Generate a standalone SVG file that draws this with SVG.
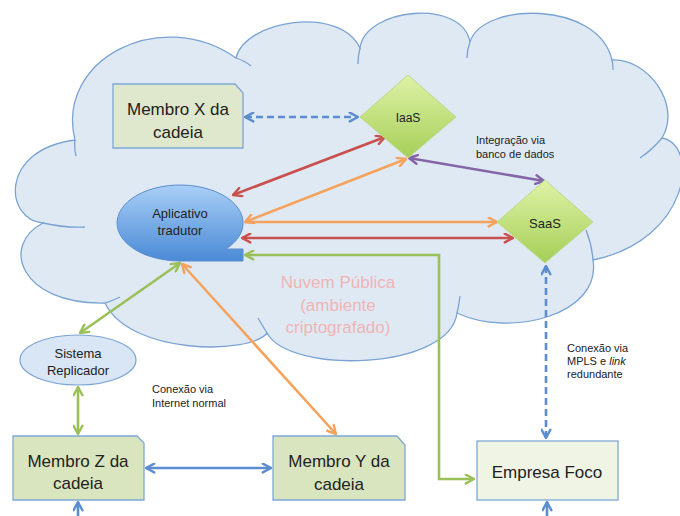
<svg xmlns="http://www.w3.org/2000/svg" width="680" height="516" viewBox="0 0 680 516">
<style>
.t{font-family:"Liberation Sans",Arial,sans-serif;fill:#222;text-anchor:middle}
.big{font-size:17px}
.med{font-size:13px}
.sm{font-size:11px;text-anchor:start}
.box{stroke:#7fa7d6;stroke-width:1.3}
.c{fill:none;stroke-width:2.6}
.blue{stroke:#5b8dd0}.red{stroke:#c9514d}.orange{stroke:#f5a35c}.green{stroke:#9bc05a}.purple{stroke:#8466a8}
.dash{stroke-dasharray:7,4}
</style>
<defs>
<linearGradient id="dg" x1="0" y1="0" x2="0" y2="1"><stop offset="0" stop-color="#def2a6"/><stop offset="1" stop-color="#a6cf58"/></linearGradient>
<linearGradient id="ag" x1="0" y1="0" x2="0" y2="1"><stop offset="0" stop-color="#a9cff6"/><stop offset="1" stop-color="#4a8ad6"/></linearGradient>
<marker id="mb" viewBox="0 0 10 10" refX="9" refY="5" markerWidth="11" markerHeight="11" markerUnits="userSpaceOnUse" orient="auto-start-reverse"><path d="M1.5,1 L9,5 L1.5,9" fill="none" stroke="#5b8dd0" stroke-width="2.2" stroke-linecap="round" stroke-linejoin="round"/></marker>
<marker id="mr" viewBox="0 0 10 10" refX="9" refY="5" markerWidth="11" markerHeight="11" markerUnits="userSpaceOnUse" orient="auto-start-reverse"><path d="M1.5,1 L9,5 L1.5,9" fill="none" stroke="#c9514d" stroke-width="2.2" stroke-linecap="round" stroke-linejoin="round"/></marker>
<marker id="mo" viewBox="0 0 10 10" refX="9" refY="5" markerWidth="11" markerHeight="11" markerUnits="userSpaceOnUse" orient="auto-start-reverse"><path d="M1.5,1 L9,5 L1.5,9" fill="none" stroke="#f5a35c" stroke-width="2.2" stroke-linecap="round" stroke-linejoin="round"/></marker>
<marker id="mg" viewBox="0 0 10 10" refX="9" refY="5" markerWidth="11" markerHeight="11" markerUnits="userSpaceOnUse" orient="auto-start-reverse"><path d="M1.5,1 L9,5 L1.5,9" fill="none" stroke="#9bc05a" stroke-width="2.2" stroke-linecap="round" stroke-linejoin="round"/></marker>
<marker id="mp" viewBox="0 0 10 10" refX="9" refY="5" markerWidth="11" markerHeight="11" markerUnits="userSpaceOnUse" orient="auto-start-reverse"><path d="M1.5,1 L9,5 L1.5,9" fill="none" stroke="#8466a8" stroke-width="2.2" stroke-linecap="round" stroke-linejoin="round"/></marker>
</defs>
<rect width="680" height="516" fill="#fff"/>

<g id="cloud">
<path d="M43,223 C5,220 -2,150 75,140 C55,60 160,5 236,58 C245,20 340,5 360,48 C365,8 462,-2 470,42 C482,2 598,0 612,60 C648,58 682,105 662,138 C700,145 690,240 593,260 C602,315 510,338 457,313 C450,370 290,375 267,333 C250,355 130,355 105,303 C20,305 0,245 43,223 Z" fill="#dfe9f4" stroke="#7aa3d3" stroke-width="1.3"/>
<path d="M75,140 Q74,148 76,156 M236,58 Q245,61 251,66 M360,48 Q358,56 358,64 M470,42 Q467,50 467,58 M612,60 Q613,64 613,70 M662,138 Q652,150 640,158 M593,260 Q592,245 586,230 M457,313 Q459,305 460,296 M267,333 Q262,325 258,318 M105,303 Q112,301 120,297 M43,223 Q65,228 85,227" fill="none" stroke="#7aa3d3" stroke-width="1.3"/>
<text class="t" x="338" y="288" font-size="17" style="fill:#f0b4b4">Nuvem Pública</text>
<text class="t" x="338" y="311" font-size="17" style="fill:#f0b4b4">(ambiente</text>
<text class="t" x="338" y="333" font-size="17" style="fill:#f0b4b4">criptografado)</text>
</g>

<g id="connectors">
<line class="c blue dash" x1="245" y1="117" x2="358" y2="117" marker-start="url(#mb)" marker-end="url(#mb)"/>
<line class="c red" x1="385" y1="137" x2="233" y2="195" marker-start="url(#mr)" marker-end="url(#mr)"/>
<line class="c orange" x1="406" y1="159" x2="245" y2="222" marker-start="url(#mo)" marker-end="url(#mo)"/>
<line class="c orange" x1="245" y1="222" x2="497" y2="222" marker-end="url(#mo)"/>
<line class="c red" x1="242" y1="238" x2="513" y2="238" marker-start="url(#mr)" marker-end="url(#mr)"/>
<line class="c purple" x1="409" y1="158" x2="544" y2="181" marker-start="url(#mp)" marker-end="url(#mp)"/>
<polyline class="c green" points="245,255 439,255 439,479 474,479" marker-start="url(#mg)" marker-end="url(#mg)"/>
<line class="c green" x1="180" y1="263" x2="80" y2="333" marker-start="url(#mg)" marker-end="url(#mg)"/>
<line class="c orange" x1="182" y1="264" x2="336" y2="434" marker-start="url(#mo)" marker-end="url(#mo)"/>
<line class="c green" x1="78" y1="387" x2="78" y2="434" marker-start="url(#mg)" marker-end="url(#mg)"/>
<line class="c blue" x1="146" y1="468" x2="271" y2="468" marker-start="url(#mb)" marker-end="url(#mb)"/>
<line class="c blue dash" x1="546" y1="266" x2="546" y2="438" marker-start="url(#mb)" marker-end="url(#mb)"/>
<line class="c blue" x1="78" y1="518" x2="78" y2="502" marker-end="url(#mb)"/>
<line class="c blue" x1="547" y1="518" x2="547" y2="502" marker-end="url(#mb)"/>
</g>

<g id="membroX">
<path class="box" d="M113,84 H235 L243,93 V148 H113 Z" fill="#dfe8cc"/>
<text class="t big" x="178" y="115">Membro X da</text>
<text class="t big" x="178" y="138">cadeia</text>
</g>

<g id="iaas">
<path d="M408,75 L456,117 L408,158 L360,117 Z" fill="url(#dg)" stroke="#bcd98a" stroke-width="1"/>
<text class="t" x="408" y="122" font-size="12">IaaS</text>
</g>

<g id="saas">
<path d="M545,180 L593,222 L545,263 L497,222 Z" fill="url(#dg)" stroke="#bcd98a" stroke-width="1"/>
<text class="t med" x="545" y="228">SaaS</text>
</g>

<g id="aplicativo">
<path d="M243,261 H180 A63,38 0 1 1 226,249 H243 Z" fill="url(#ag)" stroke="#5b8dd0" stroke-width="1"/>
<text class="t med" x="180" y="218">Aplicativo</text>
<text class="t med" x="180" y="235">tradutor</text>
</g>

<g id="sistema">
<ellipse cx="78" cy="360" rx="58" ry="25" fill="#d8e6f5" stroke="#7aa3d3" stroke-width="1.2"/>
<text class="t med" x="78" y="358">Sistema</text>
<text class="t med" x="78" y="375">Replicador</text>
</g>

<g id="membroZ">
<path class="box" d="M13,436 H137 L144,443 V500 H13 Z" fill="#d9e5be"/>
<text class="t big" x="78" y="467">Membro Z da</text>
<text class="t big" x="78" y="489">cadeia</text>
</g>

<g id="membroY">
<path class="box" d="M273,436 H397 L405,445 V500 H273 Z" fill="#d9e5be"/>
<text class="t big" x="339" y="467">Membro Y da</text>
<text class="t big" x="339" y="490">cadeia</text>
</g>

<g id="empresa">
<rect class="box" x="477" y="441" width="141" height="59" fill="#eff4e4"/>
<text class="t big" x="547" y="478">Empresa Foco</text>
</g>

<g id="labels">
<text class="t sm" x="476" y="144">Integração via</text>
<text class="t sm" x="476" y="158">banco de dados</text>
<text class="t sm" x="152" y="393">Conexão via</text>
<text class="t sm" x="152" y="407">Internet normal</text>
<text class="t sm" x="567" y="352">Conexão via</text>
<text class="t sm" x="567" y="365">MPLS e <tspan font-style="italic">link</tspan></text>
<text class="t sm" x="567" y="378">redundante</text>
</g>
</svg>
